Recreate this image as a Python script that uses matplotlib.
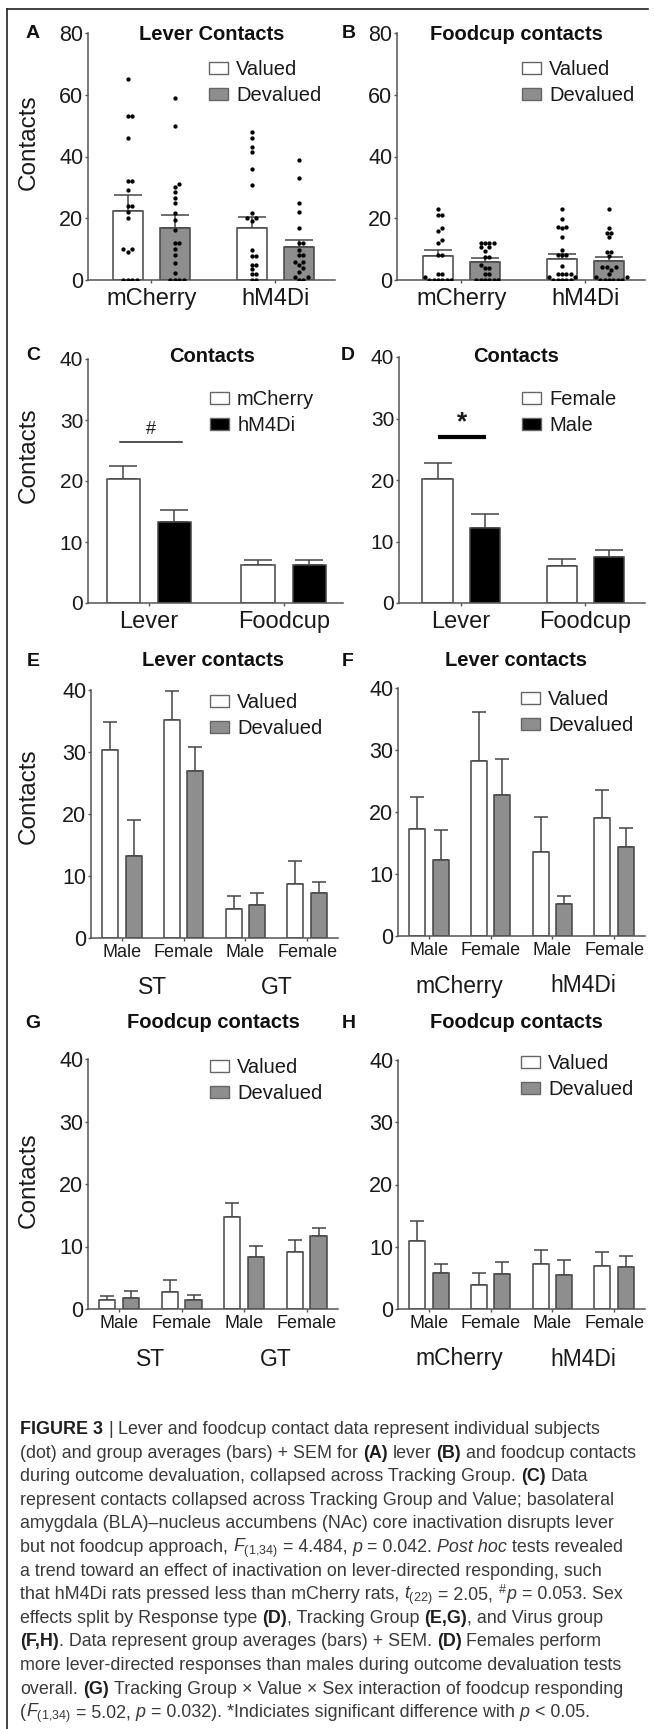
import numpy as np
import matplotlib
matplotlib.use('Agg')
import matplotlib.pyplot as plt
from matplotlib.patches import Patch

plt.rcParams['font.family'] = ['Liberation Sans', 'DejaVu Sans']
plt.rcParams['mathtext.fontset'] = 'custom'
plt.rcParams['mathtext.rm'] = 'Liberation Sans'
plt.rcParams['mathtext.it'] = 'Liberation Sans:italic'
plt.rcParams['mathtext.bf'] = 'Liberation Sans:bold'

# ---- data ----
virus = ['mCherry', 'hM4Di']
response = ['Lever', 'Foodcup']
sex = ['Male', 'Female', 'Male', 'Female']
track = ['ST', 'GT']

# A : lever contacts, individual rats
lever_mch_val = [65, 53, 53, 46, 32, 32, 29, 24, 24, 22, 20, 10, 10, 9, 0, 0, 0, 0]
lever_mch_dev = [59, 50, 31, 30, 28.6, 26.7, 24.9, 21.8, 19.5, 16.2, 12, 12, 10, 8, 5.6, 2.4, 0, 0, 0, 0]
lever_hm_val = [48, 46, 43, 41.6, 35.9, 30.8, 21.6, 20, 20, 19, 9.7, 7.8, 7.8, 4.9, 4.9, 3.5, 1.8, 1.8, 0, 0]
lever_hm_dev = [38.9, 33, 24.9, 21.9, 16.8, 12.1, 12.1, 9.7, 8.1, 8.1, 5.9, 5.9, 4.9, 3.8, 2.7, 1.1, 1.1, 0, 0]
lever_val_mean = [22.5, 17.0]
lever_val_sem = [5.0, 3.3]
lever_dev_mean = [17.0, 10.7]
lever_dev_sem = [4.0, 2.1]

# B : foodcup contacts, individual rats
food_mch_val = [23, 21, 21, 17, 16, 13, 12, 8, 8, 2, 2, 1, 0, 0, 0, 0, 0, 0]
food_mch_dev = [12, 12, 12, 12, 10.6, 10.6, 9.5, 7.6, 7.6, 4.9, 3.8, 3.8, 1.9, 1.9, 0, 0, 0, 0, 0, 0]
food_hm_val = [22.9, 19.7, 17.3, 17.3, 16.8, 13.8, 9.7, 8.1, 8.1, 8.1, 4.6, 1.9, 1.9, 1.9, 1.9,
               1.1, 1.1, 0, 0, 0, 0, 0]
food_hm_dev = [22.9, 16.8, 15.1, 15.1, 13.8, 9, 9, 7.8, 4.3, 4.3, 4.3, 3.2, 1.9, 1.1, 1.1,
               0, 0, 0, 0, 0, 0]
food_val_mean = [7.7, 6.8]
food_val_sem = [2.0, 1.7]
food_dev_mean = [5.8, 6.2]
food_dev_sem = [1.2, 1.4]

# C : virus x response
c_mch_mean = [20.4, 6.2]
c_mch_sem = [2.1, 0.8]
c_hm_mean = [13.2, 6.3]
c_hm_sem = [2.0, 0.7]

# D : sex x response
d_fem_mean = [20.1, 6.05]
d_fem_sem = [2.6, 1.05]
d_male_mean = [12.2, 7.5]
d_male_sem = [2.3, 1.1]

# E : lever, tracking group x sex
e_val_mean = [30.4, 35.2, 4.7, 8.7]
e_val_sem = [4.5, 4.6, 2.0, 3.8]
e_dev_mean = [13.2, 26.9, 5.4, 7.3]
e_dev_sem = [5.8, 3.9, 1.8, 1.8]

# F : lever, virus x sex
f_val_mean = [17.3, 28.3, 13.6, 19.0]
f_val_sem = [5.2, 7.9, 5.6, 4.5]
f_dev_mean = [12.2, 22.7, 5.1, 14.3]
f_dev_sem = [4.9, 5.9, 1.4, 3.1]

# G : foodcup, tracking group x sex
g_val_mean = [1.4, 2.7, 14.8, 9.2]
g_val_sem = [0.7, 1.9, 2.1, 1.8]
g_dev_mean = [1.8, 1.4, 8.3, 11.7]
g_dev_sem = [1.1, 0.9, 1.8, 1.2]

# H : foodcup, virus x sex
h_val_mean = [11.0, 3.9, 7.3, 6.9]
h_val_sem = [3.1, 1.9, 2.2, 2.2]
h_dev_mean = [5.8, 5.7, 5.4, 6.7]
h_dev_sem = [1.5, 1.9, 2.5, 1.8]

# ---- styling ----
W, H = 654, 1729
EDGE = '#454545'
AXC = '#555555'
GREY = '#8e8e8e'
TXT = '#1a1a1a'

fig = plt.figure(figsize=(W / 100, H / 100), dpi=100)


def px_axes(l, t, r, b):
    return fig.add_axes([l / W, 1 - b / H, (r - l) / W, (b - t) / H])


def style_axes(ax, ymax, ystep, xlim, tsize=15.5):
    ax.set_ylim(0, ymax)
    ax.set_xlim(*xlim)
    ax.set_yticks(np.arange(0, ymax + 1, ystep))
    for s in ['top', 'right']:
        ax.spines[s].set_visible(False)
    for s in ['left', 'bottom']:
        ax.spines[s].set_color(AXC)
        ax.spines[s].set_linewidth(1.1)
    ax.tick_params(axis='both', length=2.5, width=1, color=AXC, labelsize=tsize, labelcolor=TXT)
    ax.tick_params(axis='y', pad=1)
    ax.patch.set_alpha(0)


def bars(ax, x, mean, sem, width, color, capsize):
    ax.bar(x, mean, width, color=color, edgecolor=EDGE, linewidth=1.1, zorder=2)
    ax.errorbar(x, mean, yerr=[np.zeros(len(mean)), sem], fmt='none', ecolor=EDGE,
                elinewidth=1.1, capsize=capsize, capthick=1.1, zorder=1)


def swarm(ax, xc, vals, d=4.4):
    # simple beeswarm, dots placed in pixel space so they do not overlap
    pts = ax.transData.transform([(xc, v) for v in vals])
    x0 = ax.transData.transform([(0, 0), (1, 0)])
    ppu = x0[1, 0] - x0[0, 0]
    placed = []
    order = np.argsort(vals)
    cands = [0]
    for k in range(1, 12):
        cands += [k * d / 2, -k * d / 2]
    res = np.zeros(len(vals))
    for i in order:
        py = pts[i, 1]
        for c in cands:
            if all((c - qx) ** 2 + (py - qy) ** 2 >= (d * 0.95) ** 2 for qx, qy in placed):
                placed.append((c, py))
                res[i] = c
                break
    ax.plot(xc + res / ppu, vals, 'o', color='black', markersize=3.1, markeredgewidth=0, zorder=3)


def legend(ax, labels, colors, x_px, y_px):
    hs = [Patch(facecolor=c, edgecolor='#666666', linewidth=1) for c in colors]
    ax.legend(hs, labels, loc='upper left', bbox_to_anchor=(x_px / W, 1 - y_px / H),
              bbox_transform=fig.transFigure, frameon=False, fontsize=14.5,
              handlelength=0.95, handleheight=0.55, handletextpad=0.4,
              labelspacing=0.36, borderpad=0, borderaxespad=0, labelcolor=TXT)


def ftext(x, y, s, **kw):
    fig.text(x / W, 1 - y / H, s, **kw)


def ylab(ax, yc_px, top_px, bot_px, x_px, l_px):
    ax.set_ylabel('Contacts', fontsize=17.5, color=TXT)
    ax.yaxis.set_label_coords((x_px - l_px) / (ax.get_position().width * W),
                              (bot_px - yc_px) / (bot_px - top_px))


off = 0.19
bw = 0.245

# ---------- A ----------
axA = px_axes(88, 33, 335, 280)
style_axes(axA, 80, 20, (-0.51, 1.48))
xg = np.arange(2)
bars(axA, xg - off, lever_val_mean, lever_val_sem, bw, 'white', 10)
bars(axA, xg + off, lever_dev_mean, lever_dev_sem, bw, GREY, 10)
for xc, v in zip([-off, off, 1 - off, 1 + off], [lever_mch_val, lever_mch_dev, lever_hm_val, lever_hm_dev]):
    swarm(axA, xc, v)
axA.set_xticks(xg)
axA.set_xticklabels(virus, fontsize=17)
axA.tick_params(axis='x', pad=3.5)
legend(axA, ['Valued', 'Devalued'], ['white', GREY], 209, 60)
ylab(axA, 142, 33, 280, 40, 88)

# ---------- B ----------
axB = px_axes(397, 33, 645, 280)
style_axes(axB, 80, 20, (-0.52, 1.48))
bars(axB, xg - off, food_val_mean, food_val_sem, bw, 'white', 10)
bars(axB, xg + off, food_dev_mean, food_dev_sem, bw, GREY, 10)
for xc, v in zip([-off, off, 1 - off, 1 + off], [food_mch_val, food_mch_dev, food_hm_val, food_hm_dev]):
    swarm(axB, xc, v)
axB.set_xticks(xg)
axB.set_xticklabels(virus, fontsize=17)
axB.tick_params(axis='x', pad=3.5)
legend(axB, ['Valued', 'Devalued'], ['white', GREY], 522, 60)

# ---------- C ----------
axC = px_axes(88, 359, 343, 603)
style_axes(axC, 40, 10, (-0.45, 1.44), tsize=15)
bars(axC, xg - off, c_mch_mean, c_mch_sem, bw, 'white', 10)
bars(axC, xg + off, c_hm_mean, c_hm_sem, bw, 'black', 10)
axC.set_xticks(xg)
axC.set_xticklabels(response, fontsize=17)
axC.tick_params(axis='x', pad=3.5)
axC.plot([-0.21, 0.25], [26.4, 26.4], color='#222222', lw=1.1)
axC.text(0.02, 27.0, '#', ha='center', va='bottom', fontsize=13, color=TXT)
legend(axC, ['mCherry', 'hM4Di'], ['white', 'black'], 210, 390)
ylab(axC, 455, 359, 603, 40, 88)

# ---------- D ----------
axD = px_axes(399, 357, 645, 603)
style_axes(axD, 40, 10, (-0.5, 1.48), tsize=15)
bars(axD, xg - off, d_fem_mean, d_fem_sem, bw, 'white', 10)
bars(axD, xg + off, d_male_mean, d_male_sem, bw, 'black', 10)
axD.set_xticks(xg)
axD.set_xticklabels(response, fontsize=17)
axD.tick_params(axis='x', pad=3.5)
axD.plot([-0.185, 0.2], [27, 27], color='black', lw=3, solid_capstyle='butt')
axD.text(0.01, 27.4, '*', ha='center', va='bottom', fontsize=19, fontweight='bold', color=TXT)
legend(axD, ['Female', 'Male'], ['white', 'black'], 522, 390)

# ---------- E..H ----------
x4 = np.arange(4)
off4 = 0.19
bw4 = 0.26


def four(ax, vm, vs, dm, ds, groups, lx, ly):
    style_axes(ax, 40, 10, (-0.5, 3.5))
    bars(ax, x4 - off4, vm, vs, bw4, 'white', 5)
    bars(ax, x4 + off4, dm, ds, bw4, GREY, 5)
    ax.set_xticks(x4)
    ax.set_xticklabels(sex, fontsize=13)
    ax.tick_params(axis='x', pad=1.5)
    for gx, g in zip([0.5, 2.5], groups):
        ax.annotate(g, xy=(gx, 0), xycoords=('data', 'axes fraction'), xytext=(0, -50),
                    textcoords='offset pixels', ha='center', va='center', fontsize=16.5,
                    color=TXT)
    legend(ax, ['Valued', 'Devalued'], ['white', GREY], lx, ly)


axE = px_axes(91, 690, 338, 938)
four(axE, e_val_mean, e_val_sem, e_dev_mean, e_dev_sem, track, 210, 693)
ylab(axE, 796, 690, 938, 40, 91)

axF = px_axes(398, 688, 645, 936)
four(axF, f_val_mean, f_val_sem, f_dev_mean, f_dev_sem, virus, 521, 690)

axG = px_axes(88, 1059, 338, 1309)
four(axG, g_val_mean, g_val_sem, g_dev_mean, g_dev_sem, track, 210, 1058)
ylab(axG, 1180, 1059, 1309, 40, 88)

axH = px_axes(398, 1060, 645, 1309)
four(axH, h_val_mean, h_val_sem, h_dev_mean, h_dev_sem, virus, 521, 1054)

# ---------- titles and panel letters ----------
titles = [(212, 34, 'Lever Contacts'), (516, 34, 'Foodcup contacts'),
          (212, 357, 'Contacts'), (516, 357, 'Contacts'),
          (213, 661, 'Lever contacts'), (516, 661, 'Lever contacts'),
          (213, 1023, 'Foodcup contacts'), (516, 1023, 'Foodcup contacts')]
for x, y, t in titles:
    ftext(x, y, t, ha='center', va='center', fontsize=14.5, fontweight='bold', color='#111111')
letters = [(33, 34, 'A'), (349, 34, 'B'), (33, 355, 'C'), (348, 355, 'D'),
           (33, 661, 'E'), (348, 661, 'F'), (33, 1023, 'G'), (349, 1023, 'H')]
for x, y, t in letters:
    ftext(x, y, t, ha='center', va='center', fontsize=14, fontweight='bold', color='#111111')

# frame lines (top and left)
fig.add_artist(plt.Line2D([7 / W, 648 / W], [1 - 9 / H, 1 - 9 / H], transform=fig.transFigure,
                          color='#222222', lw=1.2))
fig.add_artist(plt.Line2D([7 / W, 7 / W], [1 - 9 / H, 0], transform=fig.transFigure,
                          color='#222222', lw=1.2))

# ---------- caption ----------
B, N, I, M = 'b', 'n', 'i', 'm'
caption = [
    [('FIGURE 3', B), (' | ', N), ('Lever and foodcup contact data represent individual subjects', N)],
    [('(dot) and group averages (bars) + SEM for ', N), ('(A)', B), (' lever ', N), ('(B)', B),
     (' and foodcup contacts', N)],
    [('during outcome devaluation, collapsed across Tracking Group. ', N), ('(C)', B), (' Data', N)],
    [('represent contacts collapsed across Tracking Group and Value; basolateral', N)],
    [('amygdala (BLA)\u2013nucleus accumbens (NAc) core inactivation disrupts lever', N)],
    [('but not foodcup approach, ', N), (r'$F_{\mathrm{(1{,}34)}}$', M), (' = 4.484, ', N), ('p', I),
     (' = 0.042. ', N), ('Post hoc', I), (' tests revealed', N)],
    [('a trend toward an effect of inactivation on lever-directed responding, such', N)],
    [('that hM4Di rats pressed less than mCherry rats, ', N), (r'$t_{\mathrm{(22)}}$', M),
     (' = 2.05, ', N), (r'$^{\#}$', M), ('p', I), (' = 0.053. Sex', N)],
    [('effects split by Response type ', N), ('(D)', B), (', Tracking Group ', N), ('(E,G)', B),
     (', and Virus group', N)],
    [('(F,H)', B), ('. Data represent group averages (bars) + SEM. ', N), ('(D)', B),
     (' Females perform', N)],
    [('more lever-directed responses than males during outcome devaluation tests', N)],
    [('overall. ', N), ('(G)', B), (' Tracking Group \u00d7 Value \u00d7 Sex interaction of foodcup responding', N)],
    [('(', N), (r'$F_{\mathrm{(1{,}34)}}$', M), (' = 5.02, ', N), ('p', I),
     (' = 0.032). *Indiciates significant difference with ', N), ('p', I), (' < 0.05.', N)],
]

cap_size = 12.9
cap_col = '#3a3a3a'
renderer = fig.canvas.get_renderer()
probe = fig.text(0, 0, 'a a', fontsize=cap_size)
w1 = probe.get_window_extent(renderer).width
probe.set_text('aa')
w2 = probe.get_window_extent(renderer).width
probe.remove()
space_w = w1 - w2

y0 = 1434
dy = 23.6
for li, segs in enumerate(caption):
    x = 20.0
    y = y0 + li * dy
    for txt, st in segs:
        lead = len(txt) - len(txt.lstrip(' '))
        trail = len(txt) - len(txt.rstrip(' '))
        core = txt.strip(' ')
        x += lead * space_w
        if core:
            kw = dict(fontsize=cap_size, color=cap_col, va='baseline', ha='left')
            if st == B:
                kw.update(fontweight='bold', color='#1e1e1e')
            elif st == I:
                kw.update(fontstyle='italic')
            t = fig.text(x / W, 1 - y / H, core, **kw)
            x += t.get_window_extent(renderer).width
        x += trail * space_w

fig.savefig('out.png', dpi=100)
